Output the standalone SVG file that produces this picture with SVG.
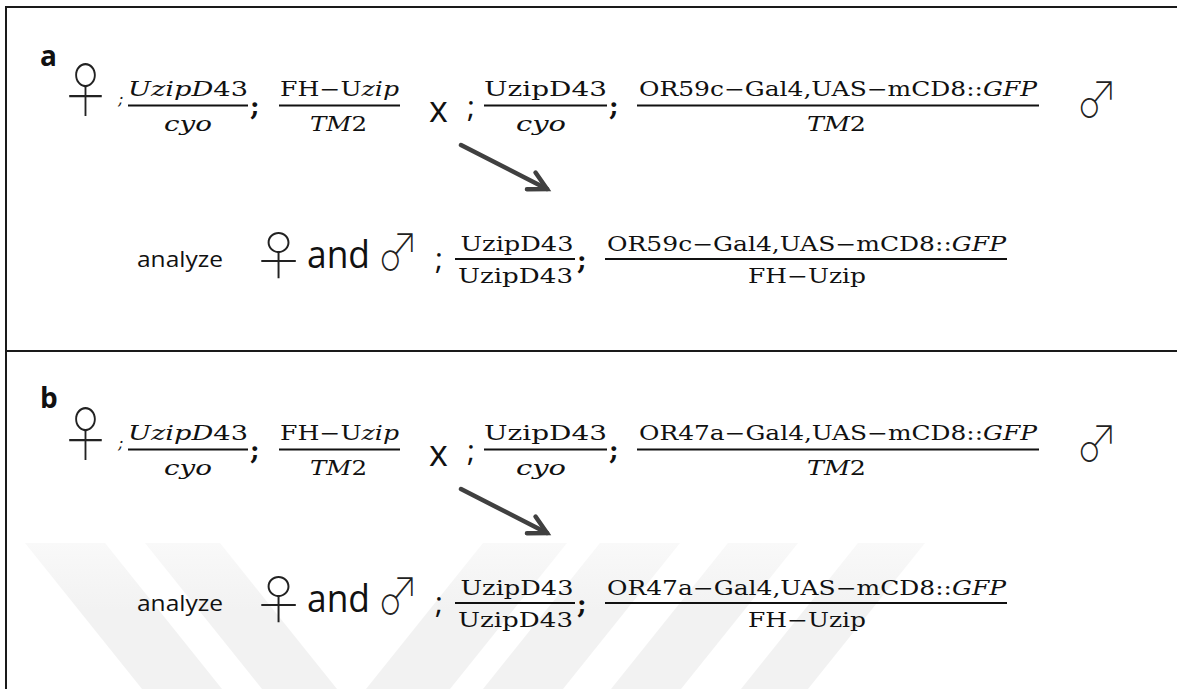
<svg xmlns="http://www.w3.org/2000/svg" width="1177" height="689" viewBox="0 0 1177 689">
  <defs>
    <style>
      .sans { font-family: "Open Sans", "Liberation Sans", sans-serif; fill: #111; }
      .serif { font-family: "DejaVu Serif", "Liberation Serif", serif; fill: #111; }
      .fr { font-size: 20px; }
      .it { font-style: italic; }
      .semi { font-size: 26px; font-weight: 700; }
      .ssemi { font-size: 30px; }
      .sym { font-family: "Noto Sans CJK JP", "DejaVu Sans", sans-serif; font-weight: 100; fill: #222; }
      .bar { stroke: #111; stroke-width: 1.8; }
      .frame { stroke: #1a1a1a; stroke-width: 2; fill: none; }
      .shaft { stroke: #404040; stroke-width: 4.5; stroke-linecap: round; fill: none; }
      .band { fill: url(#bandFill); }
    </style>
    <linearGradient id="bandFill" gradientUnits="userSpaceOnUse" x1="0" y1="543" x2="0" y2="610">
      <stop offset="0" stop-color="#f9f9f9"/>
      <stop offset="1" stop-color="#f2f2f2"/>
    </linearGradient>
    <marker id="vhead" markerUnits="userSpaceOnUse" viewBox="0 0 30 24" markerWidth="30" markerHeight="24" refX="22" refY="12" orient="auto">
      <path d="M4.3,2.6 L22,12 L4.3,21.4" fill="none" stroke="#404040" stroke-width="4.5" stroke-linecap="round" stroke-linejoin="miter"/>
    </marker>
  </defs>

  <rect width="1177" height="689" fill="#ffffff"/>

  <!-- faint background stripes -->
  <g id="watermark">
    <polygon class="band" points="25,543 105,543 222,689 142,689"/>
    <polygon class="band" points="145,543 220,543 337,689 262,689"/>
    <polygon class="band" points="483,543 567,543 450,689 366,689"/>
    <polygon class="band" points="600,543 680,543 563,689 483,689"/>
    <polygon class="band" points="728,543 798,543 681,689 611,689"/>
    <polygon class="band" points="858,543 925,543 808,689 741,689"/>
  </g>

  <!-- panel frame -->
  <g id="frame">
    <path class="frame" d="M6,689 V7 H1177"/>
    <line class="frame" x1="6" y1="351" x2="1177" y2="351"/>
  </g>

  <!-- panel a -->
  <g id="panel-a">
    <g id="a-label"><text class="sans" x="40" y="66" font-size="28" font-weight="700">a</text></g>
    <g id="a-female-parent">
      <text class="sym" transform="translate(85.5,112) scale(0.92,1.06)" font-size="56" text-anchor="middle">♀</text>
      <text class="serif it" x="118" y="104" font-size="16">;</text>
      <g id="a-f-chr2">
        <text class="serif fr" x="188" y="96" text-anchor="middle" textLength="120" lengthAdjust="spacingAndGlyphs"><tspan class="it">UzipD</tspan>43</text>
        <line class="bar" x1="128" y1="105.5" x2="248" y2="105.5"/>
        <text class="serif fr it" x="188" y="131" text-anchor="middle" textLength="48" lengthAdjust="spacingAndGlyphs">cyo</text>
      </g>
      <text class="serif semi" x="250" y="115">;</text>
      <g id="a-f-chr3">
        <text class="serif fr" x="339.5" y="96" text-anchor="middle" textLength="119" lengthAdjust="spacingAndGlyphs">FH−U<tspan class="it">zip</tspan></text>
        <line class="bar" x1="279" y1="105.5" x2="400" y2="105.5"/>
        <text class="serif fr" x="338.5" y="131" text-anchor="middle" textLength="57" lengthAdjust="spacingAndGlyphs"><tspan class="it">TM</tspan>2</text>
      </g>
    </g>
    <g id="a-cross"><text class="sans" x="438.5" y="122" font-size="36" text-anchor="middle">x</text></g>
    <g id="a-male-parent">
      <text class="sans ssemi" x="467" y="117">;</text>
      <g id="a-m-chr2">
        <text class="serif fr" x="545.5" y="96" text-anchor="middle" textLength="123" lengthAdjust="spacingAndGlyphs">UzipD43</text>
        <line class="bar" x1="484" y1="105.5" x2="607" y2="105.5"/>
        <text class="serif fr it" x="541" y="131" text-anchor="middle" textLength="50" lengthAdjust="spacingAndGlyphs">cyo</text>
      </g>
      <text class="serif semi" x="609" y="115">;</text>
      <g id="a-m-chr3">
        <text class="serif fr" x="838" y="96" text-anchor="middle" textLength="398" lengthAdjust="spacingAndGlyphs">OR59c−Gal4,UAS−mCD8::<tspan class="it">GFP</tspan></text>
        <line class="bar" x1="637" y1="105.5" x2="1039" y2="105.5"/>
        <text class="serif fr" x="836.5" y="131" text-anchor="middle" textLength="59" lengthAdjust="spacingAndGlyphs"><tspan class="it">TM</tspan>2</text>
      </g>
      <text class="sym" transform="translate(1097,118) scale(0.9,1.06)" font-size="47" text-anchor="middle">♂</text>
    </g>
    <g id="a-progeny">
      <text class="sans" x="137" y="267" font-size="22" textLength="86" lengthAdjust="spacingAndGlyphs">analyze</text>
      <text class="sym" transform="translate(278.5,275) scale(1.05,1)" font-size="52" text-anchor="middle">♀</text>
      <text class="sans" x="307" y="268" font-size="38" textLength="63" lengthAdjust="spacingAndGlyphs">and</text>
      <text class="sym" transform="translate(398,271) scale(0.9,1.08)" font-size="47" text-anchor="middle">♂</text>
      <text class="sans ssemi" x="435" y="269">;</text>
      <g id="a-p-chr2">
        <text class="serif fr" x="517" y="251" text-anchor="middle" textLength="113" lengthAdjust="spacingAndGlyphs">UzipD43</text>
        <line class="bar" x1="455" y1="259" x2="575" y2="259"/>
        <text class="serif fr" x="515.5" y="283" text-anchor="middle" textLength="115" lengthAdjust="spacingAndGlyphs">UzipD43</text>
      </g>
      <text class="serif semi" x="577" y="269">;</text>
      <g id="a-p-chr3">
        <text class="serif fr" x="806.5" y="251" text-anchor="middle" textLength="399" lengthAdjust="spacingAndGlyphs">OR59c−Gal4,UAS−mCD8::<tspan class="it">GFP</tspan></text>
        <line class="bar" x1="605" y1="259" x2="1007" y2="259"/>
        <text class="serif fr" x="807" y="283" text-anchor="middle" textLength="118" lengthAdjust="spacingAndGlyphs">FH−Uzip</text>
      </g>
    </g>
  </g>

  <!-- panel b -->
  <g id="panel-b" transform="translate(0,344)">
    <g id="b-label"><text class="sans" x="40" y="64" font-size="28" font-weight="700">b</text></g>
    <g id="b-female-parent">
      <text class="sym" transform="translate(85.5,112) scale(0.92,1.06)" font-size="56" text-anchor="middle">♀</text>
      <text class="serif it" x="118" y="104" font-size="16">;</text>
      <g id="b-f-chr2">
        <text class="serif fr" x="188" y="96" text-anchor="middle" textLength="120" lengthAdjust="spacingAndGlyphs"><tspan class="it">UzipD</tspan>43</text>
        <line class="bar" x1="128" y1="105.5" x2="248" y2="105.5"/>
        <text class="serif fr it" x="188" y="131" text-anchor="middle" textLength="48" lengthAdjust="spacingAndGlyphs">cyo</text>
      </g>
      <text class="serif semi" x="250" y="115">;</text>
      <g id="b-f-chr3">
        <text class="serif fr" x="339.5" y="96" text-anchor="middle" textLength="119" lengthAdjust="spacingAndGlyphs">FH−U<tspan class="it">zip</tspan></text>
        <line class="bar" x1="279" y1="105.5" x2="400" y2="105.5"/>
        <text class="serif fr" x="338.5" y="131" text-anchor="middle" textLength="57" lengthAdjust="spacingAndGlyphs"><tspan class="it">TM</tspan>2</text>
      </g>
    </g>
    <g id="b-cross"><text class="sans" x="438.5" y="122" font-size="36" text-anchor="middle">x</text></g>
    <g id="b-male-parent">
      <text class="sans ssemi" x="467" y="117">;</text>
      <g id="b-m-chr2">
        <text class="serif fr" x="545.5" y="96" text-anchor="middle" textLength="123" lengthAdjust="spacingAndGlyphs">UzipD43</text>
        <line class="bar" x1="484" y1="105.5" x2="607" y2="105.5"/>
        <text class="serif fr it" x="541" y="131" text-anchor="middle" textLength="50" lengthAdjust="spacingAndGlyphs">cyo</text>
      </g>
      <text class="serif semi" x="609" y="115">;</text>
      <g id="b-m-chr3">
        <text class="serif fr" x="838" y="96" text-anchor="middle" textLength="398" lengthAdjust="spacingAndGlyphs">OR47a−Gal4,UAS−mCD8::<tspan class="it">GFP</tspan></text>
        <line class="bar" x1="637" y1="105.5" x2="1039" y2="105.5"/>
        <text class="serif fr" x="836.5" y="131" text-anchor="middle" textLength="59" lengthAdjust="spacingAndGlyphs"><tspan class="it">TM</tspan>2</text>
      </g>
      <text class="sym" transform="translate(1097,118) scale(0.9,1.06)" font-size="47" text-anchor="middle">♂</text>
    </g>
    <g id="b-progeny">
      <text class="sans" x="137" y="267" font-size="22" textLength="86" lengthAdjust="spacingAndGlyphs">analyze</text>
      <text class="sym" transform="translate(278.5,275) scale(1.05,1)" font-size="52" text-anchor="middle">♀</text>
      <text class="sans" x="307" y="268" font-size="38" textLength="63" lengthAdjust="spacingAndGlyphs">and</text>
      <text class="sym" transform="translate(398,271) scale(0.9,1.08)" font-size="47" text-anchor="middle">♂</text>
      <text class="sans ssemi" x="435" y="269">;</text>
      <g id="b-p-chr2">
        <text class="serif fr" x="517" y="251" text-anchor="middle" textLength="113" lengthAdjust="spacingAndGlyphs">UzipD43</text>
        <line class="bar" x1="455" y1="259" x2="575" y2="259"/>
        <text class="serif fr" x="515.5" y="283" text-anchor="middle" textLength="115" lengthAdjust="spacingAndGlyphs">UzipD43</text>
      </g>
      <text class="serif semi" x="577" y="269">;</text>
      <g id="b-p-chr3">
        <text class="serif fr" x="806.5" y="251" text-anchor="middle" textLength="399" lengthAdjust="spacingAndGlyphs">OR47a−Gal4,UAS−mCD8::<tspan class="it">GFP</tspan></text>
        <line class="bar" x1="605" y1="259" x2="1007" y2="259"/>
        <text class="serif fr" x="807" y="283" text-anchor="middle" textLength="118" lengthAdjust="spacingAndGlyphs">FH−Uzip</text>
      </g>
    </g>
  </g>

  <!-- cross-to-progeny arrows -->
  <g id="connectors">
    <line class="shaft" x1="461" y1="145" x2="547" y2="189" marker-end="url(#vhead)"/>
    <line class="shaft" x1="461" y1="489" x2="547" y2="533" marker-end="url(#vhead)"/>
  </g>
</svg>
